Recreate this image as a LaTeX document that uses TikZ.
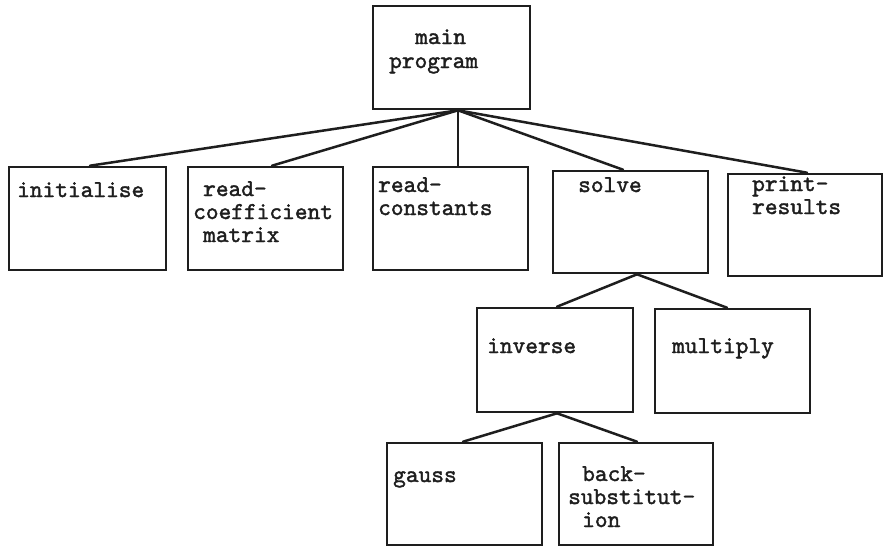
\documentclass[tikz,border=0pt]{standalone}
\usepackage{fontspec}
\newfontfamily\typew{lmmono10-regular.otf}[FakeBold=1.6]
\definecolor{ink}{HTML}{1E1E1E}
\begin{document}
\begin{tikzpicture}[x=1pt,y=-1pt,
  box/.style={draw=ink,line width=2.6pt,inner sep=0pt,fill=white},
  txt/.style={anchor=base west,inner sep=0pt,text height=14pt,text depth=4pt,text=ink,font=\typew\fontsize{24.2}{25}\selectfont},
  link/.style={draw=ink,line width=2.5pt,line cap=round}]
\useasboundingbox[fill=white] (0,0) rectangle (883,546);
% boxes: centre, width, height
\node[box,minimum width=157pt,minimum height=103pt] (main) at (451.5,57.5) {};
\node[box,minimum width=157pt,minimum height=103pt] (init) at (87.5,218.5) {};
\node[box,minimum width=155pt,minimum height=103pt] (rcoef) at (265.5,218.5) {};
\node[box,minimum width=155pt,minimum height=103pt] (rconst) at (450.5,218.5) {};
\node[box,minimum width=155pt,minimum height=102pt] (solve) at (630.5,222) {};
\node[box,minimum width=154pt,minimum height=102pt] (print) at (805,225) {};
\node[box,minimum width=156pt,minimum height=104pt] (inverse) at (555,360) {};
\node[box,minimum width=155pt,minimum height=104pt] (multiply) at (732.5,361) {};
\node[box,minimum width=155pt,minimum height=102pt] (gauss) at (464.5,494) {};
\node[box,minimum width=154pt,minimum height=102pt] (back) at (636,494) {};
% texts
\node[txt] (tmain1) at (415,44) {main};
\node[txt] (tmain2) at (389,68) {program};
\node[txt] (tinit) at (17,197) {initialise};
\node[txt] (trcoef1) at (203,196) {read-};
\node[txt] (trcoef2) at (193,219) {coefficient};
\node[txt] (trcoef3) at (203,242) {matrix};
\node[txt] (trconst1) at (378,192) {read-};
\node[txt] (trconst2) at (378,215) {constants};
\node[txt] (tsolve) at (578,192) {solve};
\node[txt] (tprint1) at (752,191) {print-};
\node[txt] (tprint2) at (752,214) {results};
\node[txt] (tinverse) at (487,353) {inverse};
\node[txt] (tmultiply) at (672,353) {multiply};
\node[txt] (tgauss) at (393,482) {gauss};
\node[txt] (tback1) at (582,481) {back-};
\node[txt] (tback2) at (568,504) {substitut-};
\node[txt] (tback3) at (582,527) {ion};
% junctions
\coordinate (mj) at ([xshift=6.5pt]main.south);
\coordinate (sj) at ([xshift=6.5pt]solve.south);
\coordinate (ij) at ([xshift=2pt]inverse.south);
% connectors
\draw[link] (mj) -- ([xshift=2.5pt]init.north);
\draw[link] (mj) -- ([xshift=6.5pt]rcoef.north);
\draw[link] (mj) -- ([xshift=7.5pt]rconst.north);
\draw[link] (mj) -- ([xshift=-7.5pt]solve.north);
\draw[link] (mj) -- ([xshift=2pt]print.north);
\draw[link] (sj) -- ([xshift=2pt]inverse.north);
\draw[link] (sj) -- ([xshift=-5.5pt]multiply.north);
\draw[link] (ij) -- ([xshift=-1.5pt]gauss.north);
\draw[link] (ij) -- ([xshift=1pt]back.north);
\end{tikzpicture}
\end{document}
